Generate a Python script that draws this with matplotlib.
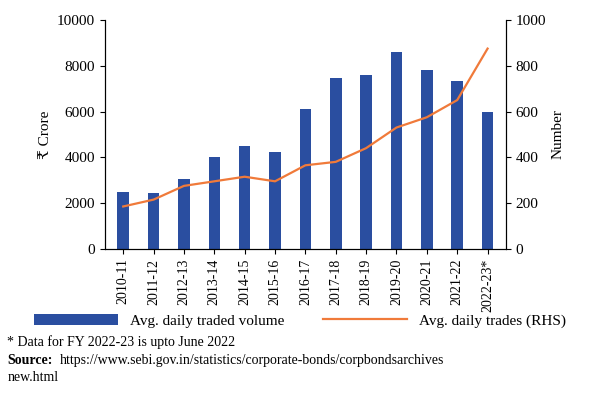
import matplotlib
matplotlib.use("Agg")
import matplotlib.pyplot as plt

years = ["2010-11","2011-12","2012-13","2013-14","2014-15","2015-16","2016-17",
         "2017-18","2018-19","2019-20","2020-21","2021-22","2022-23*"]
volume = [2500,2450,3050,4000,4500,4250,6100,7450,7600,8600,7800,7350,6000]
trades = [185,215,275,295,315,295,365,380,440,530,575,650,875]

plt.rcParams["font.family"] = ["Liberation Serif", "DejaVu Serif"]
fig = plt.figure(figsize=(6,4), dpi=100)
ax = fig.add_axes([0.175, 0.378, 0.668, 0.572])
x = range(len(years))
b = ax.bar(x, volume, width=0.38, color="#2a4ea0", label="Avg. daily traded volume")
ax.set_ylim(0, 10000)
ax.set_yticks(range(0, 10001, 2000))
ax.set_xlim(-0.6, len(years)-0.4)
ax.set_xticks(list(x))
ax.set_xticklabels(years, rotation=90, fontsize=10)
ax.tick_params(axis="y", labelsize=11)
ax.set_ylabel("₹ Crore", fontsize=11, fontfamily=["Liberation Serif", "DejaVu Serif"])
ax2 = ax.twinx()
l, = ax2.plot(x, trades, color="#f07a3a", lw=1.6, label="Avg. daily trades (RHS)")
ax2.set_ylim(0, 1000)
ax2.set_yticks(range(0, 1001, 200))
ax2.tick_params(axis="y", labelsize=11)
ax2.set_ylabel("Number", fontsize=11)
for a in (ax, ax2):
    a.spines["top"].set_visible(False)
fig.legend([b, l], ["Avg. daily traded volume", "Avg. daily trades (RHS)"],
           loc="center", bbox_to_anchor=(0.5, 0.198), ncol=2, frameon=False,
           fontsize=11, columnspacing=2.5, handlelength=5.5)
fig.text(0.012, 0.135, "* Data for FY 2022-23 is upto June 2022", fontsize=10)
fig.text(0.012, 0.09, "Source:", fontsize=10, weight="bold")
fig.text(0.1, 0.09, "https://www.sebi.gov.in/statistics/corporate-bonds/corpbondsarchives", fontsize=10)
fig.text(0.012, 0.048, "new.html", fontsize=10)
fig.savefig("out.png")
